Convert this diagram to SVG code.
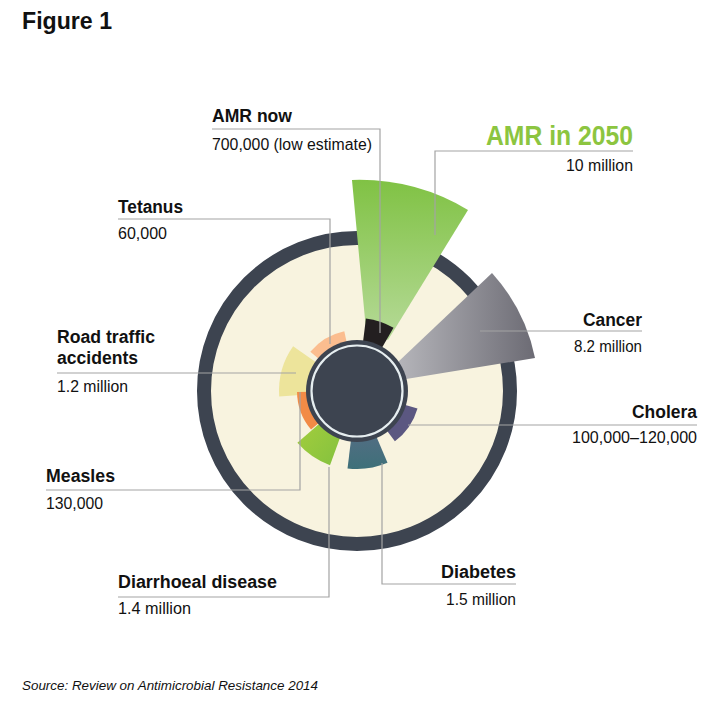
<svg xmlns="http://www.w3.org/2000/svg" width="724" height="710" viewBox="0 0 724 710">
<style>
text{font-family:"Liberation Sans",Arial,sans-serif;fill:#111}
.h{font-weight:bold;font-size:18px}
.v{font-size:16px}
.ld{fill:none;stroke:#a3a3a3;stroke-width:1.2}
</style>
<defs>
<linearGradient id="gA" x1="0" y1="0" x2="0" y2="1"><stop offset="0" stop-color="#80c244"/><stop offset="1" stop-color="#b6da98"/></linearGradient>
<linearGradient id="gC" x1="0" y1="0" x2="1" y2="0"><stop offset="0" stop-color="#b5b5ba"/><stop offset="1" stop-color="#6c6b74"/></linearGradient>
<linearGradient id="gD" x1="0" y1="0" x2="0" y2="1"><stop offset="0" stop-color="#6c6a90"/><stop offset="1" stop-color="#3e7079"/></linearGradient>
<linearGradient id="gG" x1="0" y1="0" x2="1" y2="1"><stop offset="0" stop-color="#aed13c"/><stop offset="1" stop-color="#7dbf3f"/></linearGradient>
</defs>
<rect width="724" height="710" fill="#fff"/>
<text x="22" y="29" style="font-weight:bold;font-size:24px" textLength="90" lengthAdjust="spacingAndGlyphs">Figure 1</text>
<g id="chart">
<circle cx="357" cy="391" r="153" fill="#f8f3df" stroke="#3d4450" stroke-width="14"/>
<path id="amr2050" d="M366,330 L352,180 A212 212 0 0 1 468,210 L388,340 Z" fill="url(#gA)"/>
<path id="cancer" d="M398,362 L492,273 A180 180 0 0 1 535,358 L400,380 Z" fill="url(#gC)"/>
<path id="tetanus" d="M357,391 L310.3,351.8 A61 61 0 0 1 344.3,331.3 Z" fill="#fbbd8f"/>
<path id="road" d="M357,391 L279.2,396.4 A78 78 0 0 1 293.1,346.2 Z" fill="#ede49b"/>
<path id="measles" d="M357,391 L311,429.6 A60 60 0 0 1 297,392 Z" fill="#f28b46"/>
<path id="diarr" d="M357,391 L330,465.2 A79 79 0 0 1 297.4,442.8 Z" fill="url(#gG)"/>
<path id="diabetes" d="M357,391 L387.5,462.8 A78 78 0 0 1 347.5,468.4 Z" fill="url(#gD)"/>
<path id="cholera" d="M357,391 L417.5,408.4 A63 63 0 0 1 394.9,441.3 Z" fill="#5b5781"/>
<path id="amrnow" d="M357,391 L365.9,318.5 A73 73 0 0 1 393.5,327.8 Z" fill="#231f20"/>
<circle cx="357" cy="391" r="51" fill="#3d4450"/>
<circle cx="357" cy="391" r="45.5" fill="none" stroke="#e6eef0" stroke-width="2.2"/>
</g>
<g id="connectors">
<path class="ld" d="M212,129 H380 V333"/>
<path class="ld" d="M633,151 H435 V235"/>
<path class="ld" d="M118,219 H330 V344"/>
<path class="ld" d="M57,373 H296"/>
<path class="ld" d="M46,490 H300 V392"/>
<path class="ld" d="M118,597 H329 V467"/>
<path class="ld" d="M516,584 H382 V463"/>
<path class="ld" d="M697,425 H408"/>
<path class="ld" d="M642,331 H480"/>
</g>
<g id="l-amrnow"><text class="h" x="212" y="122" textLength="80" lengthAdjust="spacingAndGlyphs">AMR now</text><text class="v" x="212" y="150" textLength="160" lengthAdjust="spacingAndGlyphs">700,000 (low estimate)</text></g>
<g id="l-amr2050"><text x="486" y="145" style="font-weight:bold;font-size:28px;fill:#8cc540" textLength="147" lengthAdjust="spacingAndGlyphs">AMR in 2050</text><text class="v" x="633" y="171" text-anchor="end" textLength="67" lengthAdjust="spacingAndGlyphs">10 million</text></g>
<g id="l-tetanus"><text class="h" x="118" y="213" textLength="65" lengthAdjust="spacingAndGlyphs">Tetanus</text><text class="v" x="118" y="239" textLength="49" lengthAdjust="spacingAndGlyphs">60,000</text></g>
<g id="l-road"><text class="h" x="57" y="343" textLength="98" lengthAdjust="spacingAndGlyphs">Road traffic</text><text class="h" x="57" y="364" textLength="81" lengthAdjust="spacingAndGlyphs">accidents</text><text class="v" x="57" y="392" textLength="71" lengthAdjust="spacingAndGlyphs">1.2 million</text></g>
<g id="l-measles"><text class="h" x="46" y="482" textLength="69" lengthAdjust="spacingAndGlyphs">Measles</text><text class="v" x="46" y="509" textLength="57" lengthAdjust="spacingAndGlyphs">130,000</text></g>
<g id="l-diarr"><text class="h" x="118" y="588" textLength="159" lengthAdjust="spacingAndGlyphs">Diarrhoeal disease</text><text class="v" x="118" y="614" textLength="73" lengthAdjust="spacingAndGlyphs">1.4 million</text></g>
<g id="l-diabetes"><text class="h" x="441" y="578" textLength="75" lengthAdjust="spacingAndGlyphs">Diabetes</text><text class="v" x="446" y="605" textLength="70" lengthAdjust="spacingAndGlyphs">1.5 million</text></g>
<g id="l-cholera"><text class="h" x="632" y="418" textLength="65" lengthAdjust="spacingAndGlyphs">Cholera</text><text class="v" x="572" y="443" textLength="125" lengthAdjust="spacingAndGlyphs">100,000–120,000</text></g>
<g id="l-cancer"><text class="h" x="583" y="326" textLength="59" lengthAdjust="spacingAndGlyphs">Cancer</text><text class="v" x="574" y="352" textLength="68" lengthAdjust="spacingAndGlyphs">8.2 million</text></g>
<text x="22" y="690" style="font-style:italic;font-size:13px" textLength="296" lengthAdjust="spacingAndGlyphs">Source: Review on Antimicrobial Resistance 2014</text>
</svg>
